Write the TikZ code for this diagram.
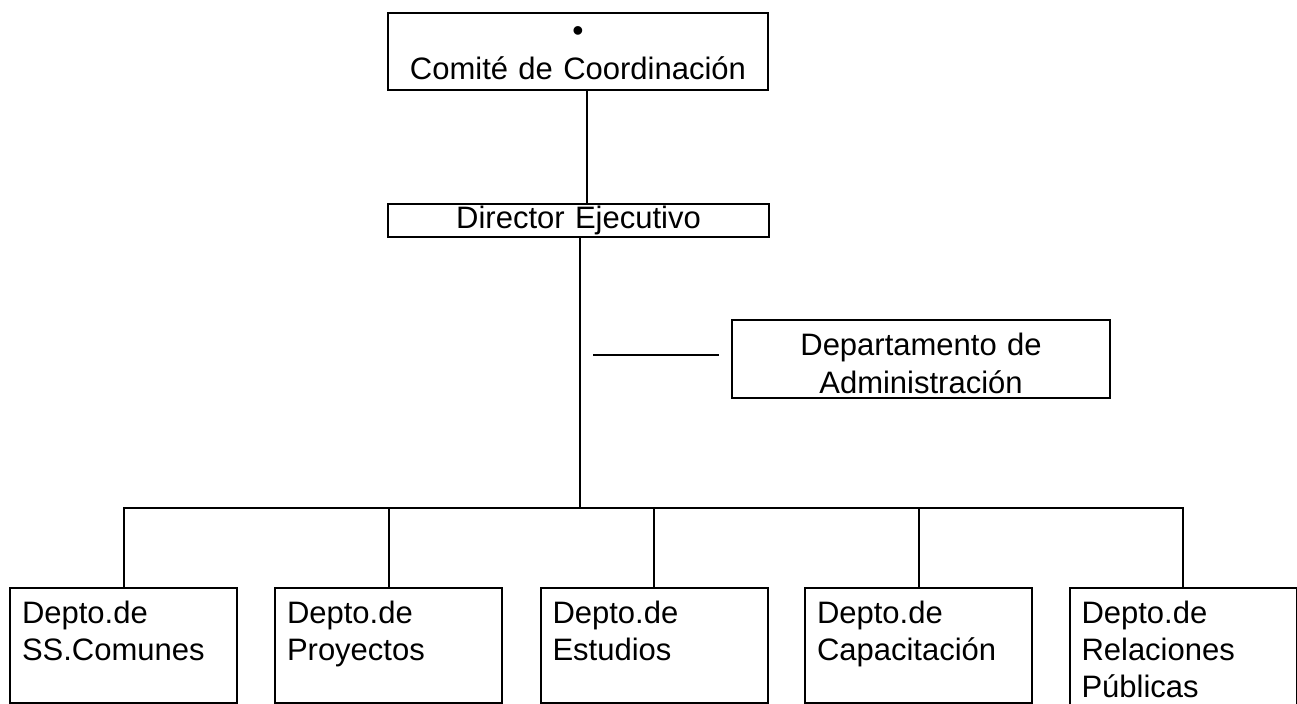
\documentclass[tikz,border=0pt]{standalone}
\usepackage{fontspec}
\setmainfont{Liberation Sans}
\usetikzlibrary{positioning,calc}

\begin{document}
\begin{tikzpicture}[x=0.5pt, y=-0.5pt, line width=1pt,
    font=\fontsize{15.5}{18.5}\selectfont,
    box/.style={draw, rectangle, inner sep=0pt, align=center},
    dept/.style={draw, rectangle, anchor=north, inner xsep=6pt, inner ysep=0pt,
        text width=101.5pt, align=left, text height=18pt, text depth=39.5pt}]
    \useasboundingbox (0,0) rectangle (1297,704);

    % Top levels
    \node [box, text width=190pt, text height=14.25pt, text depth=24.25pt] (comite) at (578,12)
        [anchor=north] {{\fontsize{16}{16}\selectfont\textbullet}\\[0.75pt]Comité de Coordinación};
    \node [box, text width=190.5pt, text height=12.5pt, text depth=4pt] (director) at (578.5,203)
        [anchor=north] {Director Ejecutivo};
    \node [box, text width=189pt, text height=18pt, text depth=21pt, anchor=north,
        font=\fontsize{15.5}{19}\selectfont] (admin) at (921,319) {Departamento de\\Administración};

    % Departments
    \foreach \n/\x/\txt in {ss/123.5/{Depto.de\\SS.Comunes}, proy/388.5/{Depto.de\\Proyectos},
        est/654/{Depto.de\\Estudios}, cap/918.5/{Depto.de\\Capacitación}} {
        \node [dept] (\n) at (\x,587) {\txt};
    }
    \node [dept, text depth=44pt] (rrpp) at (1183,587) {Depto.de\\Relaciones\\Públicas};

    % Connection points
    \coordinate (bus) at (580,508);
    \coordinate (adm) at (593,355);

    \draw ([xshift=4.5pt]comite.south) -- ([xshift=4.5pt]comite.south |- director.north);
    \draw ([xshift=0.75pt]director.south) -- (bus);
    \draw [shorten >=6pt] (adm) -- (admin.west |- adm);

    % Bus to departments
    \draw (ss.north) -- (ss.north |- bus) -- (rrpp.north |- bus) -- (rrpp.north);
    \foreach \n in {proy,est,cap} {
        \draw (\n.north |- bus) -- (\n.north);
    }
\end{tikzpicture}
\end{document}
